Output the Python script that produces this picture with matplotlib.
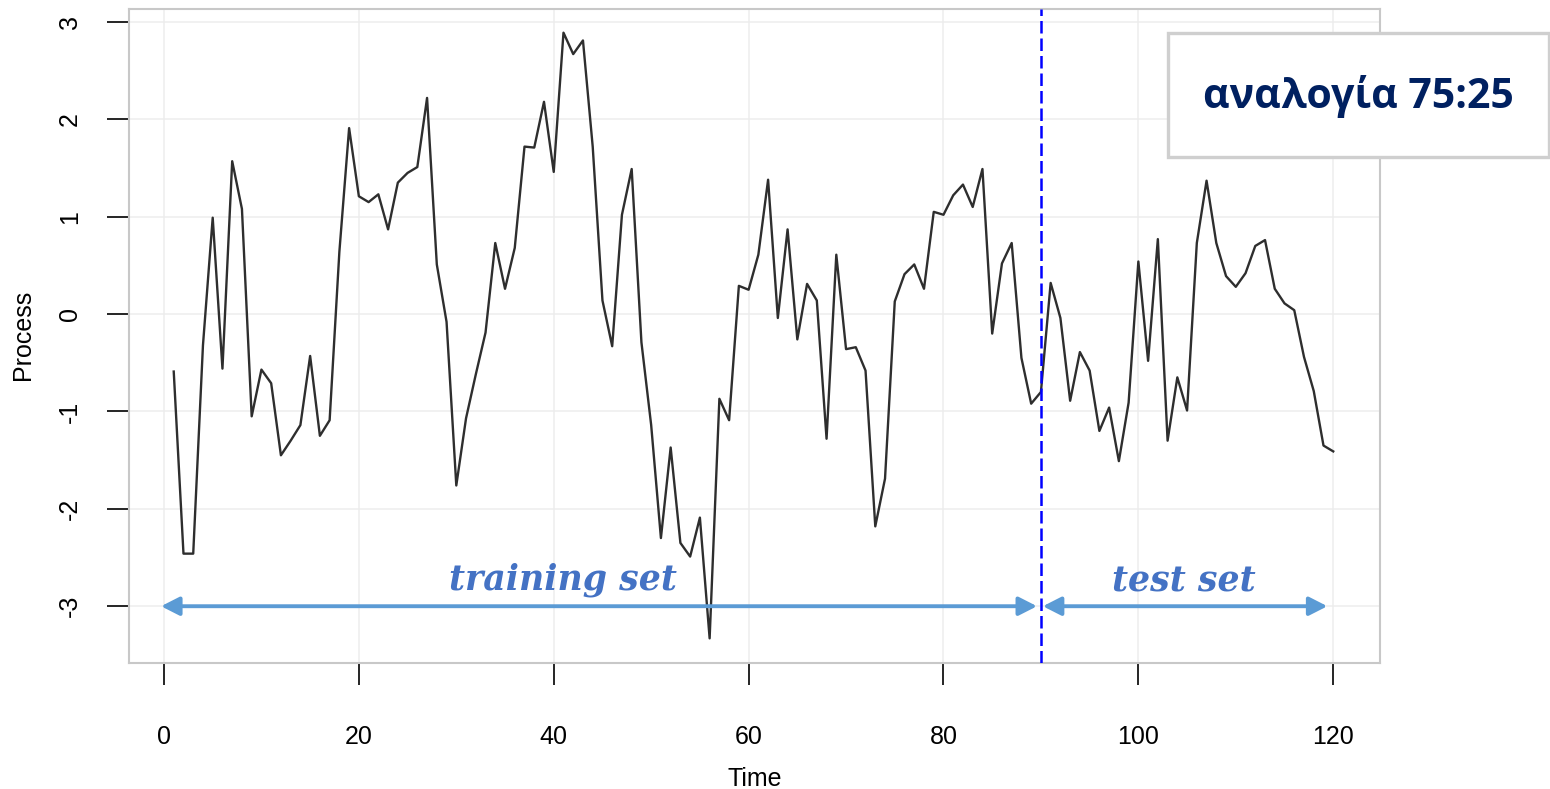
import numpy as np
import matplotlib
matplotlib.use("Agg")
import matplotlib.pyplot as plt
from matplotlib.patches import Rectangle, FancyArrowPatch

# ---------------- data ----------------
time = np.arange(1, 121)
process = [
    -0.59, -2.46, -2.46, -0.32, 0.99, -0.56, 1.57, 1.08, -1.05, -0.57,
    -0.71, -1.45, -1.30, -1.14, -0.43, -1.25, -1.09, 0.64, 1.91, 1.21,
    1.15, 1.23, 0.87, 1.35, 1.45, 1.51, 2.22, 0.51, -0.08, -1.76,
    -1.07, -0.62, -0.19, 0.73, 0.26, 0.68, 1.72, 1.71, 2.18, 1.46,
    2.89, 2.67, 2.81, 1.72, 0.14, -0.33, 1.02, 1.49, -0.29, -1.14,
    -2.30, -1.37, -2.35, -2.49, -2.09, -3.33, -0.87, -1.09, 0.29, 0.25,
    0.61, 1.38, -0.04, 0.87, -0.26, 0.31, 0.14, -1.28, 0.61, -0.36,
    -0.34, -0.58, -2.18, -1.69, 0.13, 0.41, 0.51, 0.26, 1.05, 1.02,
    1.22, 1.33, 1.10, 1.49, -0.20, 0.52, 0.73, -0.45, -0.92, -0.80,
    0.32, -0.04, -0.89, -0.39, -0.58, -1.20, -0.96, -1.51, -0.91, 0.54,
    -0.48, 0.77, -1.30, -0.65, -0.99, 0.73, 1.37, 0.73, 0.39, 0.28,
    0.42, 0.70, 0.76, 0.26, 0.11, 0.04, -0.44, -0.79, -1.35, -1.41,
]
x_ticks = [0, 20, 40, 60, 80, 100, 120]
y_ticks = [-3, -2, -1, 0, 1, 2, 3]
split_time = 90
train_span = (-0.3, 89.6)
test_span = (90.2, 119.4)
arrow_level = -3
train_label = "training set"
test_label = "test set"
ratio_label = "αναλογία 75:25"

# ---------------- figure ----------------
W, H = 1550, 789
fig = plt.figure(figsize=(W / 100, H / 100), dpi=100)
fig.patch.set_facecolor("white")

L, R_, T, B = 129.3, 1380, 9.3, 662.7
ax = fig.add_axes([L / W, 1 - B / H, (R_ - L) / W, (B - T) / H])
ax.set_xlim(-3.56, 124.8)
ax.set_ylim(-3.58, 3.13)

# grid
for xv in x_ticks:
    ax.axvline(xv, color="#ededed", lw=1.1, zorder=0)
for yv in y_ticks:
    ax.axhline(yv, color="#ededed", lw=1.1, zorder=0)

# series
ax.plot(time, process, color="#2e2e2e", lw=1.7, zorder=3)

# split line
ax.axvline(split_time, color="#0000ff", lw=1.8, linestyle=(0, (5, 2)), zorder=4)

# arrows
arrow_col = "#5b9bd5"
for (a, b) in (train_span, test_span):
    arr = FancyArrowPatch((a, arrow_level), (b, arrow_level),
                          arrowstyle="<|-|>,head_length=0.55,head_width=0.28",
                          mutation_scale=20, color=arrow_col, lw=2.8,
                          shrinkA=0, shrinkB=0, zorder=5)
    ax.add_patch(arr)

label_font = dict(family="DejaVu Serif", weight="bold", style="italic",
                  color="#4472c4", fontsize=25)
ax.text(40.96, -2.825, train_label, ha="center", va="baseline", zorder=6, **label_font)
ax.text(104.7, -2.846, test_label, ha="center", va="baseline", zorder=6, **label_font)

# spines & ticks
for s in ax.spines.values():
    s.set_color("#c8c8c8")
    s.set_linewidth(1.5)
ax.set_xticks(x_ticks)
ax.set_yticks(y_ticks)
ax.set_xticklabels([str(v) for v in x_ticks], fontsize=18, family="Liberation Sans")
ax.set_yticklabels([str(v) for v in y_ticks], fontsize=18, family="Liberation Sans",
                   rotation=90, va="center")
ax.tick_params(axis="x", direction="out", length=16, width=1.2, color="black", pad=29)
ax.tick_params(axis="y", direction="out", length=16, width=1.2, color="black", pad=18)

fig.text(754.5 / W, 1 - 786.5 / H, "Time", ha="center", va="baseline",
         fontsize=18, family="Liberation Sans")
fig.text(23 / W, 1 - 335 / H, "Process", ha="center", va="center", rotation=90,
         fontsize=18, family="Liberation Sans")

# ratio box
bx0, by0, bx1, by1 = 1168, 33, 1549, 157
rect = Rectangle((bx0 / W, 1 - by1 / H), (bx1 - bx0) / W, (by1 - by0) / H,
                 transform=fig.transFigure, facecolor="white", edgecolor="#cfcfcf",
                 lw=2.4, zorder=10)
fig.patches.append(rect)
fig.text(1358 / W, 1 - 97 / H, ratio_label, ha="center", va="center",
         fontsize=29.5, fontweight="bold", family=["Open Sans", "DejaVu Sans"],
         color="#002060", zorder=11)

fig.savefig("out.png", dpi=100, facecolor="white")
